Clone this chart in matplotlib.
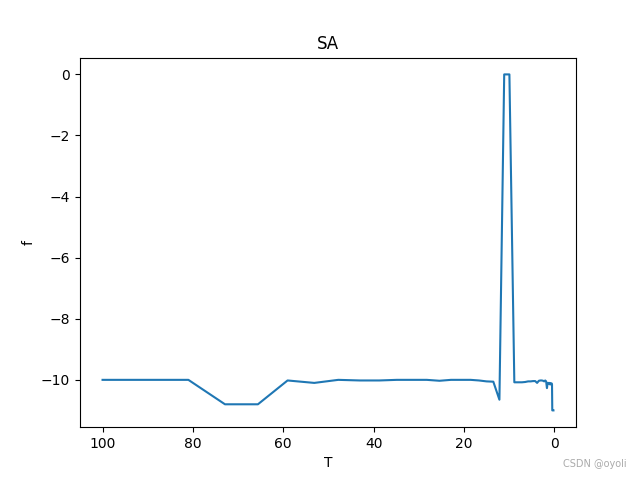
import matplotlib
matplotlib.use('Agg')
import matplotlib.pyplot as plt

# temperature schedule and best value found
T = [100, 90, 81, 72.9, 65.61, 59.05, 53.14, 47.83, 43.05, 38.74,
     34.87, 31.38, 28.24, 25.42, 22.88, 20.59, 18.53, 16.68, 15.01, 13.51,
     12.16, 11.1, 9.95, 8.86, 7.98, 7.18, 6.46, 5.81, 5.23, 4.71,
     4.24, 3.82, 3.43, 3.09, 2.78, 2.50, 2.25, 2.03, 1.82, 1.64,
     1.48, 1.33, 1.20, 1.08, 0.97, 0.87, 0.79, 0.71, 0.64, 0.57,
     0.52, 0.46, 0.42, 0.38, 0.34, 0.31, 0.27, 0.25, 0.22, 0.20]
f = [-10.0, -10.0, -10.0, -10.8, -10.8, -10.02, -10.1, -10.0, -10.02, -10.02,
     -10.0, -10.0, -10.0, -10.03, -10.0, -10.0, -10.0, -10.02, -10.05, -10.06,
     -10.65, 0.0, 0.0, -10.08, -10.08, -10.08, -10.07, -10.05, -10.05, -10.04,
     -10.04, -10.1, -10.03, -10.02, -10.02, -10.03, -10.05, -10.02, -10.05, -10.27,
     -10.1, -10.1, -10.12, -10.1, -10.15, -10.12, -10.12, -10.15, -10.12, -10.12,
     -10.15, -11.0, -11.0, -11.0, -11.0, -11.0, -11.0, -11.0, -11.0, -11.0]

fig, ax = plt.subplots(figsize=(6.4, 4.8), dpi=100)
ax.plot(T, f)
ax.invert_xaxis()
ax.set_title('SA')
ax.set_xlabel('T')
ax.set_ylabel('f')
fig.text(0.979, 0.022, 'CSDN @oyoli', ha='right', va='bottom', fontsize=7, color='#aaaaaa')

fig.savefig('out.png')
